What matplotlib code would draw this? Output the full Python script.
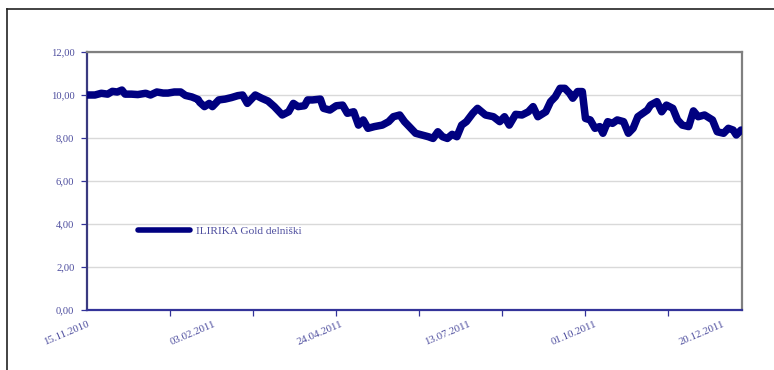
import matplotlib
matplotlib.use("Agg")
import matplotlib.pyplot as plt
import matplotlib.dates as mdates
from matplotlib.lines import Line2D
from matplotlib.ticker import FuncFormatter
import numpy as np
import pandas as pd

# ILIRIKA Gold delniški - unit value, days counted from 15.11.2010
start = pd.Timestamp("2010-11-15")
days = [0, 5, 9, 13, 16, 19, 22, 24, 28, 32, 37, 40, 44, 48, 51, 55, 59, 62, 66, 70,
        71, 74, 77, 79, 83, 87, 91, 95, 98, 101, 106, 110, 114, 118, 123, 127, 130, 133,
        137, 139, 142, 147, 149, 153, 157, 161, 164, 168, 171, 174, 177, 181, 186, 190,
        193, 197, 200, 203, 207, 211, 215, 218, 221, 224, 227, 230, 233, 236, 239, 243,
        246, 251, 256, 260, 263, 266, 270, 274, 278, 281, 284, 289, 292, 295, 298, 301,
        304, 306, 309, 312, 314, 317, 320, 323, 325, 328, 331, 334, 338, 341, 344, 347,
        353, 355, 359, 362, 365, 369, 372, 375, 379, 382, 385, 389, 394, 397, 401, 404,
        407, 409, 412]
values = [10.00, 10.00, 10.08, 10.04, 10.17, 10.14, 10.23, 10.04, 10.04, 10.02, 10.08, 10.00,
          10.14, 10.09, 10.09, 10.14, 10.14, 9.98, 9.91, 9.79,
          9.66, 9.46, 9.61, 9.46, 9.77, 9.81, 9.88, 9.97, 10.00, 9.61, 10.00, 9.85, 9.72,
          9.46, 9.07, 9.22, 9.61, 9.46,
          9.50, 9.77, 9.77, 9.81, 9.38, 9.30, 9.50, 9.53, 9.15, 9.22, 8.60, 8.84, 8.45, 8.53,
          8.60, 8.76, 8.99, 9.07, 8.76, 8.53, 8.22, 8.14, 8.06, 7.98, 8.29, 8.06, 7.98, 8.17,
          8.06, 8.60, 8.76, 9.15,
          9.38, 9.07, 8.99, 8.76, 8.99, 8.60, 9.10, 9.07, 9.22, 9.46, 8.99, 9.22, 9.69, 9.92,
          10.31, 10.31, 10.08, 9.85, 10.16, 10.16, 8.91, 8.84, 8.45, 8.53, 8.22, 8.76, 8.68,
          8.84, 8.76, 8.22, 8.45, 8.99,
          9.30, 9.53, 9.69, 9.22, 9.53, 9.38, 8.84, 8.60, 8.53, 9.26, 8.99, 9.07, 8.84, 8.29,
          8.22, 8.45, 8.37, 8.14, 8.37]
series_name = "ILIRIKA Gold delniški"
label_dates = ["15.11.2010", "03.02.2011", "24.04.2011", "13.07.2011", "01.10.2011", "20.12.2011"]
y_ticks = [0, 2, 4, 6, 8, 10, 12]

dates = start + pd.to_timedelta(days, unit="D")
lbl = pd.to_datetime(label_dates, format="%d.%m.%Y")

txt_col = "#4d4d9e"
line_col = "#000080"
serif = ["Liberation Serif", "DejaVu Serif"]

fig = plt.figure(figsize=(7.74, 3.70), dpi=100)
ax = fig.add_axes([87 / 774, 1 - 310 / 370, 655 / 774, 258 / 370])

ax.plot(dates, values, color=line_col, lw=5.4, solid_capstyle="round",
        solid_joinstyle="round", label=series_name, zorder=3)

ax.set_ylim(0, 12)
ax.set_xlim(start, start + pd.Timedelta(days=412.6))
ax.set_yticks(y_ticks)
ax.yaxis.set_major_formatter(FuncFormatter(lambda v, p: ("%.2f" % v).replace(".", ",")))
ax.grid(axis="y", color="#d9d9d9", lw=1.0, zorder=0)
ax.set_axisbelow(True)

# date labels every 80 days, tick marks on their own spacing
ax.set_xticks(lbl)
ax.xaxis.set_major_formatter(mdates.DateFormatter("%d.%m.%Y"))
ax.set_xticks([start + pd.Timedelta(days=d) for d in np.arange(0, 412, 52.3)], minor=True)
ax.tick_params(axis="x", which="major", length=0, pad=7, labelcolor=txt_col, labelsize=7.8)
ax.tick_params(axis="x", which="minor", length=4, width=0.9, color="#333399", direction="out")
ax.tick_params(axis="y", length=4, width=0.9, color="#333399", pad=5,
               labelcolor=txt_col, labelsize=7.6)
for t in ax.get_xticklabels():
    t.set_rotation(23)
    t.set_ha("right")
    t.set_va("top")
    t.set_rotation_mode("anchor")
    t.set_family(serif)
for t in ax.get_yticklabels():
    t.set_family(serif)

ax.spines["left"].set_color("#3a3a80")
ax.spines["bottom"].set_color("#333399")
ax.spines["top"].set_color("#808080")
ax.spines["right"].set_color("#808080")
for s in ax.spines.values():
    s.set_linewidth(1.6)

leg = ax.legend(loc="center left", bbox_to_anchor=(0.078, 0.306), frameon=False,
                handlelength=4.6, handletextpad=0.45, borderpad=0, borderaxespad=0,
                prop={"family": serif, "size": 8.2})
for t in leg.get_texts():
    t.set_color(txt_col)
leg.get_lines()[0].set_linewidth(4.0)

# outer frame edges
fig.add_artist(Line2D([7 / 774, 1.0], [1 - 9 / 370, 1 - 9 / 370], color="#222222", lw=1.2,
                      transform=fig.transFigure))
fig.add_artist(Line2D([7 / 774, 7 / 774], [0, 1 - 9 / 370], color="#222222", lw=1.2,
                      transform=fig.transFigure))

fig.savefig("out.png", dpi=100)
